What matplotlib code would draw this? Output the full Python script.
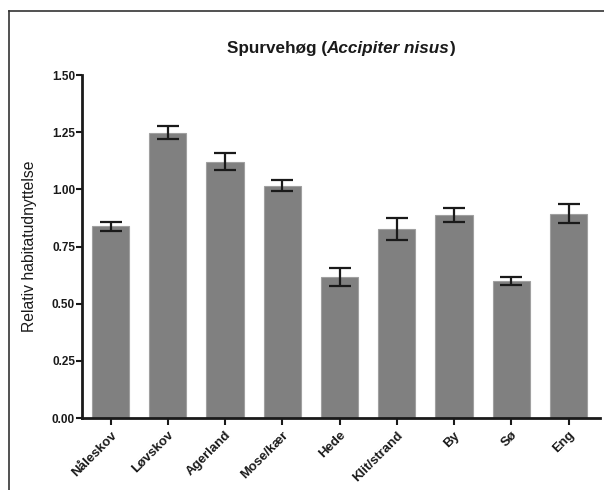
import matplotlib
matplotlib.use('Agg')
import matplotlib.pyplot as plt
from matplotlib.lines import Line2D

plt.rcParams['font.family'] = ['Liberation Sans', 'DejaVu Sans']

# values
habitats = ['Nåleskov', 'Løvskov', 'Agerland', 'Mose/kær', 'Hede',
            'Klit/strand', 'By', 'Sø', 'Eng']
means = [0.838, 1.248, 1.121, 1.015, 0.617, 0.825, 0.887, 0.599, 0.893]
errors = [0.020, 0.029, 0.036, 0.024, 0.038, 0.048, 0.030, 0.018, 0.042]
yticks = [0.00, 0.25, 0.50, 0.75, 1.00, 1.25, 1.50]

fig = plt.figure(figsize=(6.04, 4.90), dpi=100)
ax = fig.add_axes([82/604, 1-418/490, (600-82)/604, (418-75)/490])

x = list(range(len(habitats)))
ax.bar(x, means, width=0.65, color='#808080', edgecolor='#a0a0a0', linewidth=0.8,
       yerr=errors, capsize=8, error_kw=dict(ecolor='#1a1a1a', elinewidth=1.6, capthick=1.6))

ax.set_xlim(-0.5, 8.55)
ax.set_ylim(0, 1.5)
ax.set_yticks(yticks)
ax.set_yticklabels(['%.2f' % v for v in yticks], fontsize=8.5, fontweight='bold')
ax.set_xticks(x)
ax.set_xticklabels(habitats, rotation=45, ha='right', rotation_mode='anchor',
                   fontsize=9.5, fontweight='bold')
ax.tick_params(axis='y', direction='out', length=4, width=1.5, pad=1, colors='#1a1a1a')
ax.tick_params(axis='x', direction='out', length=5, width=1.5, pad=3, colors='#1a1a1a')

for s in ['top', 'right']:
    ax.spines[s].set_visible(False)
for s in ['left', 'bottom']:
    ax.spines[s].set_linewidth(2)
    ax.spines[s].set_color('#1a1a1a')

ax.set_ylabel('Relativ habitatudnyttelse', fontsize=11.3, color='#1a1a1a')
ax.yaxis.set_label_coords(-0.086, 0.5)

# title with italic species name
ty = 1 - 48/490
t1 = fig.text(0, ty, 'Spurvehøg (', fontsize=12.3, fontweight='bold', va='center', color='#1a1a1a')
t2 = fig.text(0, ty, 'Accipiter nisus', fontsize=12.3, fontweight='bold',
              style='italic', va='center', color='#1a1a1a')
t3 = fig.text(0, ty, ')', fontsize=12.3, fontweight='bold', va='center', color='#1a1a1a')
fig.canvas.draw()
r = fig.canvas.get_renderer()
w1 = t1.get_window_extent(r).width
w2 = t2.get_window_extent(r).width
w3 = t3.get_window_extent(r).width
start = 341 - (w1 + w2 + w3) / 2
t1.set_x(start / 604)
t2.set_x((start + w1) / 604)
t3.set_x((start + w1 + w2) / 604)

# outer frame
fig.add_artist(Line2D([9/604, 9/604], [0, 1-11/490], transform=fig.transFigure,
                      color='#333333', linewidth=1.2))
fig.add_artist(Line2D([9/604, 1], [1-11/490, 1-11/490], transform=fig.transFigure,
                      color='#333333', linewidth=1.2))

fig.savefig('out.png', dpi=100)
